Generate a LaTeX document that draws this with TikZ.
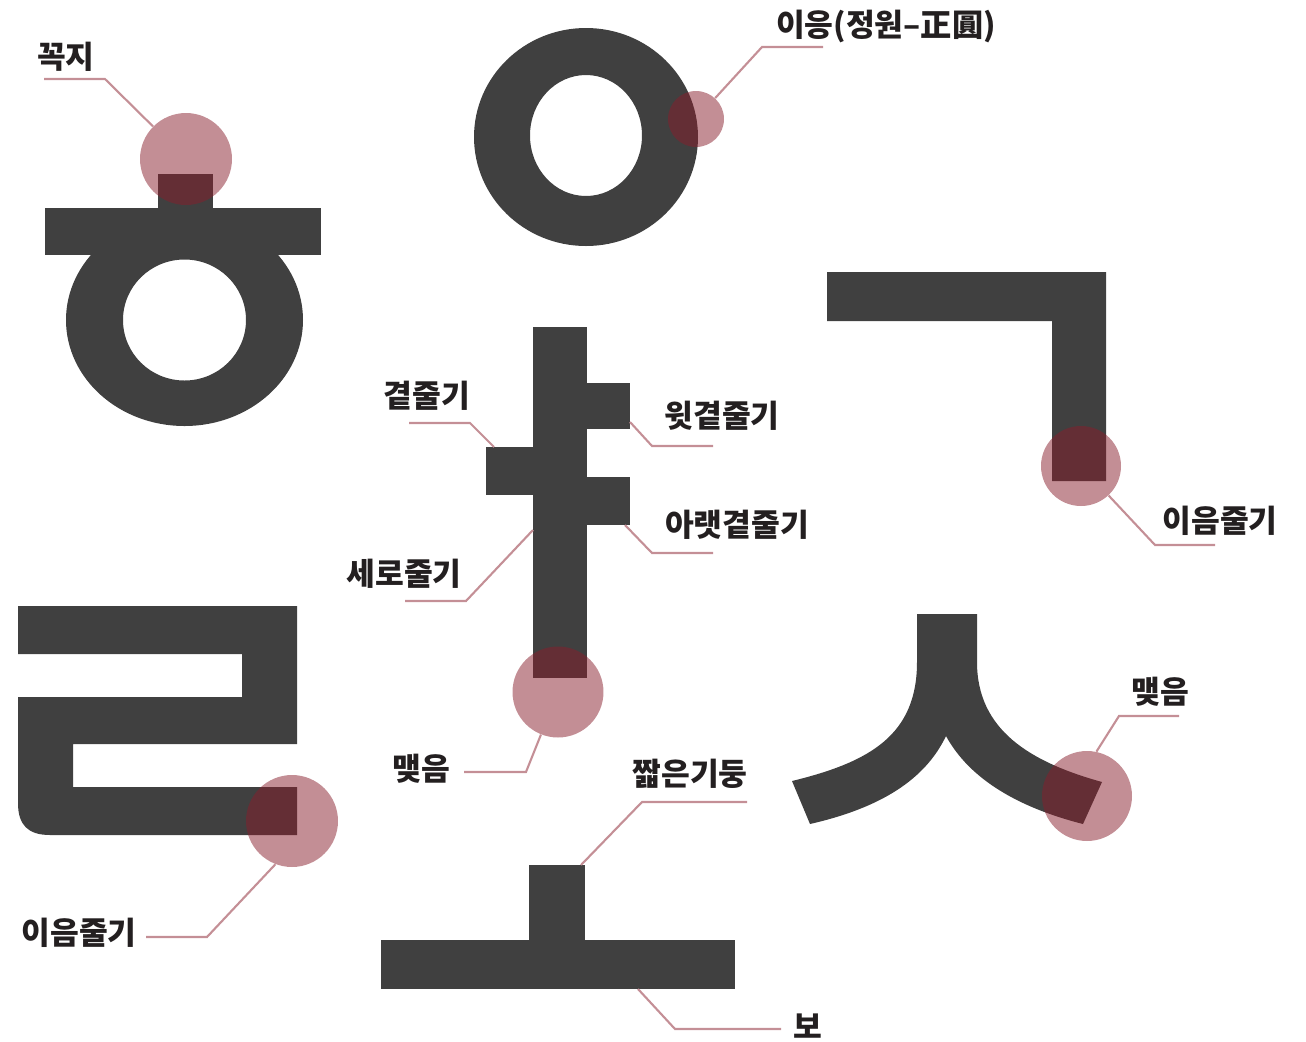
\documentclass[tikz,border=0pt]{standalone}
\usepackage{fontspec}
\newfontfamily\krfont{Noto Sans CJK KR}
\definecolor{glyph}{HTML}{404040}
\definecolor{spotred}{HTML}{881E2C}
\definecolor{leadpink}{HTML}{C48F96}
\definecolor{ink}{HTML}{231F20}
\begin{document}
\begin{tikzpicture}[x=0.02cm, y=-0.02cm,
    partname/.style={text=ink, inner sep=0pt, font=\krfont\bfseries\fontsize{17.8}{20}\selectfont},
    hilite/.style={circle, fill=spotred, fill opacity=0.5, inner sep=0pt, minimum size=#1},
    leader/.style={draw=leadpink, line width=1.2pt}]
      \useasboundingbox (0,0) rectangle (1306,1042);

      % hieut
      \fill[glyph] (158,174) rectangle (213,208);
      \fill[glyph] (45,208) rectangle (321,255);
      \fill[glyph, even odd rule] (184.5,320) ellipse [x radius=118.5, y radius=106]
                                  (184.5,320) ellipse [x radius=61.5, y radius=60.5];
      % ieung
      \fill[glyph, even odd rule] (586,137) ellipse [x radius=112, y radius=109]
                                  (586,135.5) ellipse [x radius=56, y radius=60.5];
      % ya
      \fill[glyph] (533,327) rectangle (587,678);
      \fill[glyph] (587,383) rectangle (630,429);
      \fill[glyph] (486,447) rectangle (533,495);
      \fill[glyph] (587,477) rectangle (630,525);
      % giyeok
      \fill[glyph] (827,272) -- (1106,272) -- (1106,481) -- (1052,481) -- (1052,321) -- (827,321) -- cycle;
      % rieul
      \fill[glyph] (18,606) -- (297,606) -- (297,744) -- (73,744) -- (73,787) -- (297,787) -- (297,835)
                   -- (50,835) .. controls (28,835) and (18,825) .. (18,803)
                   -- (18,697) -- (242,697) -- (242,654) -- (18,654) -- cycle;
      % o
      \fill[glyph] (529,865) rectangle (585,940);
      \fill[glyph] (381,940) rectangle (735,989);
      % siot
      \fill[glyph] (917,614) -- (917,662) .. controls (917,735) and (870,762) .. (792,781)
                   -- (810,824) .. controls (880,808) and (925,780) .. (946,736)
                   .. controls (970,780) and (1020,808) .. (1083,824)
                   -- (1102,782) .. controls (1030,762) and (977,730) .. (977,662)
                   -- (977,614) -- cycle;

      \node[hilite=1.84cm] (kkokji) at (186,159) {};
      \node[hilite=1.12cm] (ieungspot) at (696,119) {};
      \node[hilite=1.82cm] (maeteumA) at (558,692) {};
      \node[hilite=1.6cm] (ieumA) at (1081,466) {};
      \node[hilite=1.84cm] (ieumB) at (292,821) {};
      \node[hilite=1.8cm] (maeteumB) at (1087,796) {};

      \node[partname] (l-kkokji) at (66,57) {꼭지};
      \node[partname] (l-ieung) at (886,26) {이응(정원–正圓)};
      \node[partname] (l-gyeot) at (427,396) {곁줄기};
      \node[partname] (l-witgyeot) at (722,416) {윗곁줄기};
      \node[partname] (l-araet) at (737,525) {아랫곁줄기};
      \node[partname] (l-sero) at (404,574) {세로줄기};
      \node[partname] (l-ieumA) at (1220,521) {이음줄기};
      \node[partname] (l-maeteumB) at (1160,692) {맺음};
      \node[partname] (l-maeteumA) at (421,769) {맺음};
      \node[partname] (l-jjalbeun) at (690,774) {짧은기둥};
      \node[partname] (l-ieumB) at (79,933) {이음줄기};
      \node[partname] (l-bo) at (808,1026) {보};

      \coordinate (k1) at (44,79);    \coordinate (k2) at (105,79);
      \coordinate (i1) at (823,47);   \coordinate (i2) at (762,47);
      \coordinate (g1) at (409,423);  \coordinate (g2) at (470,423);  \coordinate (g3) at (494,447);
      \coordinate (w1) at (713,446);  \coordinate (w2) at (652,446);  \coordinate (w3) at (630,422);
      \coordinate (a1) at (713,553);  \coordinate (a2) at (652,553);  \coordinate (a3) at (625,525);
      \coordinate (s1) at (405,601);  \coordinate (s2) at (466,601);  \coordinate (s3) at (533,530);
      \coordinate (m1) at (464,772);  \coordinate (m2) at (526,772);
      \coordinate (j1) at (747,802);  \coordinate (j2) at (642,802);  \coordinate (j3) at (581,865);
      \coordinate (b1) at (781,1029); \coordinate (b2) at (675,1029); \coordinate (b3) at (638,989);
      \coordinate (e1) at (1215,545); \coordinate (e2) at (1155,545);
      \coordinate (r1) at (146,937);  \coordinate (r2) at (207,937);
      \coordinate (n1) at (1179,716); \coordinate (n2) at (1119,716);

      \draw[leader] (k1) -- (k2) -- (kkokji);
      \draw[leader] (i1) -- (i2) -- (ieungspot);
      \draw[leader] (g1) -- (g2) -- (g3);
      \draw[leader] (w1) -- (w2) -- (w3);
      \draw[leader] (a1) -- (a2) -- (a3);
      \draw[leader] (s1) -- (s2) -- (s3);
      \draw[leader] (m1) -- (m2) -- (maeteumA);
      \draw[leader] (j1) -- (j2) -- (j3);
      \draw[leader] (b1) -- (b2) -- (b3);
      \draw[leader] (e1) -- (e2) -- (ieumA);
      \draw[leader] (r1) -- (r2) -- (ieumB.249);
      \draw[leader] (n1) -- (n2) -- (maeteumB.78);

      \end{tikzpicture}
\end{document}
